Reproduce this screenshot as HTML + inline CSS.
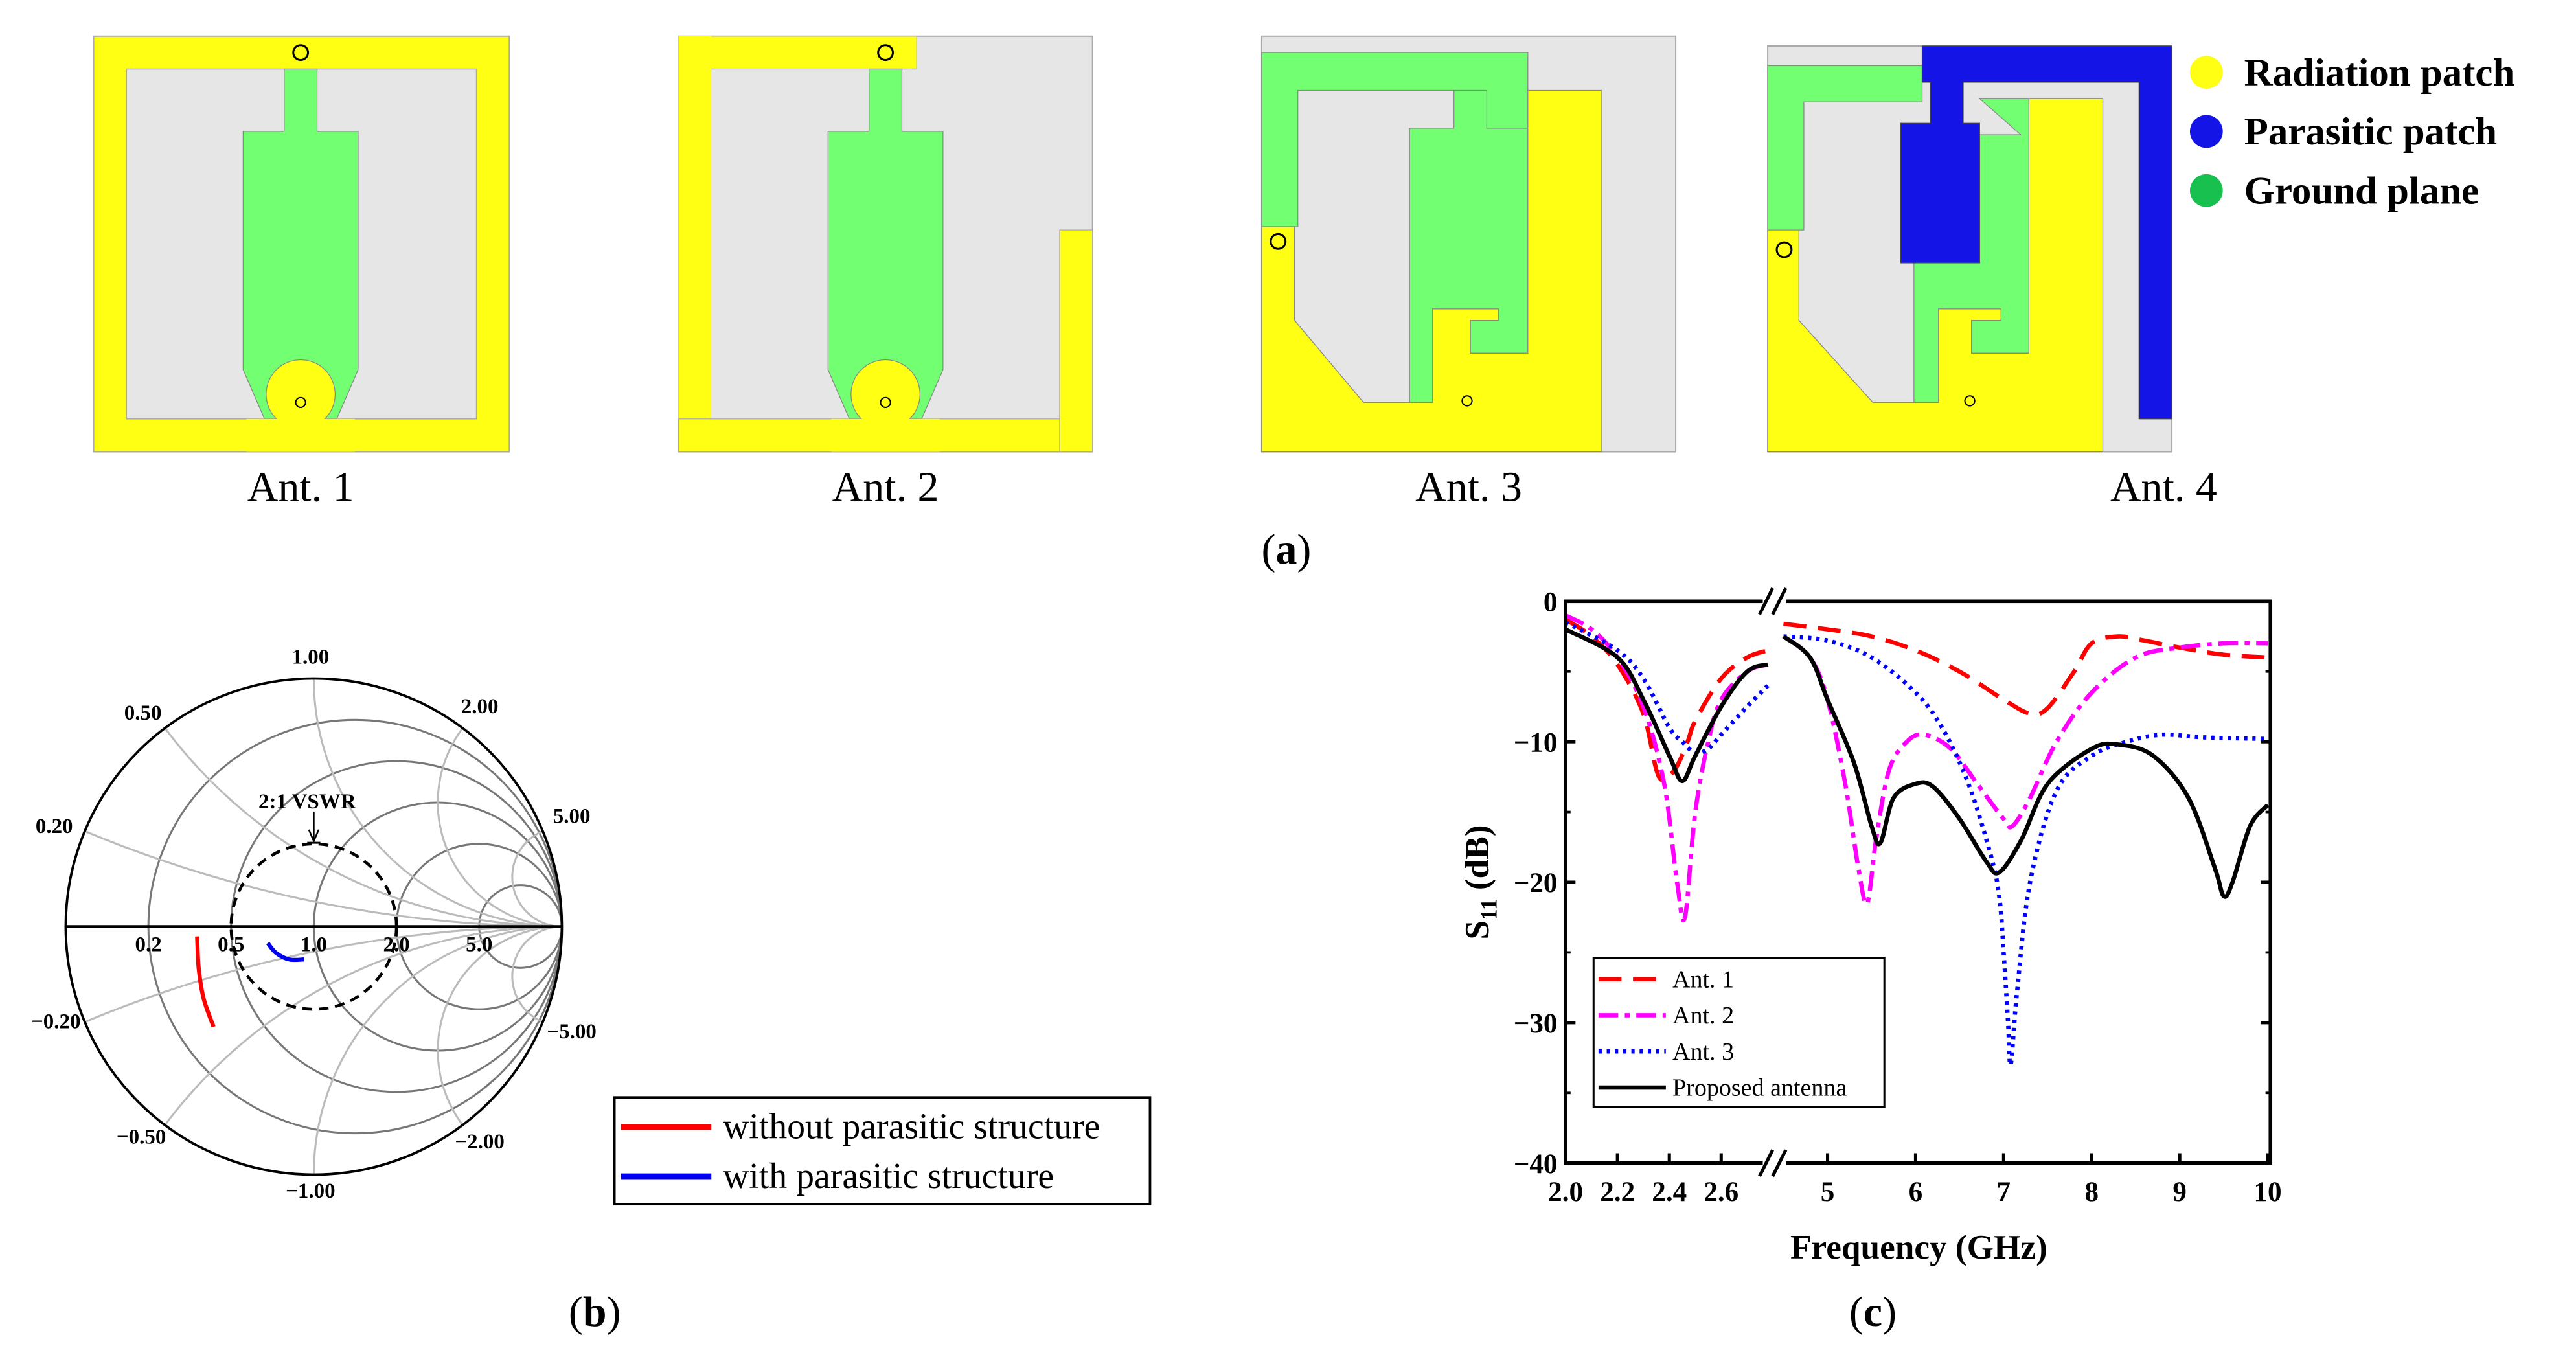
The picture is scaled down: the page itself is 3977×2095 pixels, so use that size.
<!DOCTYPE html>
<html><head><meta charset="utf-8"><style>
html,body{margin:0;padding:0;background:#fff;}
svg{display:block;}
text{font-family:"Liberation Serif",serif;}
</style></head><body>
<svg id="fig" width="3977" height="2095" viewBox="0 0 1568 826" preserveAspectRatio="none" xmlns="http://www.w3.org/2000/svg" font-family="Liberation Serif, serif">
<g>
<rect x="57" y="22" width="253" height="253" fill="#ffff14" stroke="#aaa" stroke-width="0.8"/>
<rect x="77" y="42" width="213" height="213" fill="#e6e6e6" stroke="#aaa" stroke-width="0.6"/>
<polygon points="173,42 193,42 193,80 218,80 218,225 205,255 161,255 148,225 148,80 173,80" fill="#72ff72" stroke="#888" stroke-width="0.5"/>
<circle cx="183" cy="240" r="21" fill="#ffff14" stroke="#888" stroke-width="0.5"/>
<rect x="150" y="255" width="66" height="20" fill="#ffff14"/>
<circle cx="183" cy="245" r="3" fill="none" stroke="#000" stroke-width="0.8"/>
<circle cx="183" cy="32" r="4.5" fill="none" stroke="#000" stroke-width="1.2"/>
</g>
<g>
<rect x="413" y="22" width="252" height="253" fill="#e6e6e6" stroke="#aaa" stroke-width="0.8"/>
<rect x="413" y="22" width="145" height="20" fill="#ffff14" stroke="#aaa" stroke-width="0.5"/>
<rect x="413" y="22" width="20" height="253" fill="#ffff14"/>
<rect x="413" y="255" width="252" height="20" fill="#ffff14" stroke="#aaa" stroke-width="0.5"/>
<rect x="645" y="140" width="20" height="135" fill="#ffff14" stroke="#aaa" stroke-width="0.5"/>
<polygon points="529,42 549,42 549,80 574,80 574,225 561,255 517,255 504,225 504,80 529,80" fill="#72ff72" stroke="#888" stroke-width="0.5"/>
<circle cx="539" cy="240" r="21" fill="#ffff14" stroke="#888" stroke-width="0.5"/>
<rect x="506" y="255" width="66" height="20" fill="#ffff14"/>
<circle cx="539" cy="245" r="3" fill="none" stroke="#000" stroke-width="0.8"/>
<circle cx="539" cy="32" r="4.5" fill="none" stroke="#000" stroke-width="1.2"/>
</g>
<g>
<rect x="768" y="22" width="252" height="253" fill="#e6e6e6" stroke="#aaa" stroke-width="0.8"/>
<polygon points="768,32 930,32 930,78 905,78 905,55 790,55 790,138 768,138" fill="#72ff72" stroke="#888" stroke-width="0.5"/>
<polygon points="885,55 905,55 905,78 930,78 930,215 895,215 895,195 912,195 912,188 872,188 872,245 858,245 858,78 885,78" fill="#72ff72" stroke="#888" stroke-width="0.5"/>
<polygon points="930,55 975,55 975,275 768,275 768,138 788,138 788,195 830,245 872,245 872,188 912,188 912,195 895,195 895,215 930,215" fill="#ffff14" stroke="#888" stroke-width="0.5"/>
<circle cx="778" cy="147" r="4.5" fill="none" stroke="#000" stroke-width="1.2"/>
<circle cx="893" cy="244" r="3" fill="none" stroke="#000" stroke-width="0.8"/>
</g>
<g>
<rect x="1076" y="28" width="246" height="247" fill="#e6e6e6" stroke="#aaa" stroke-width="0.8"/>
<polygon points="1076,40 1170,40 1170,62 1098,62 1098,140 1076,140" fill="#72ff72" stroke="#888" stroke-width="0.5"/>
<polygon points="1205,60 1235,60 1235,215 1200,215 1200,195 1218,195 1218,188 1180,188 1180,245 1165,245 1165,160 1205,160 1205,82 1230,82" fill="#72ff72" stroke="#888" stroke-width="0.5"/>
<polygon points="1235,60 1280,60 1280,275 1076,275 1076,140 1095,140 1095,195 1140,245 1180,245 1180,188 1218,188 1218,195 1200,195 1200,215 1235,215" fill="#ffff14" stroke="#888" stroke-width="0.5"/>
<polygon points="1170,28 1322,28 1322,255 1302,255 1302,50 1195,50 1195,75 1205,75 1205,160 1157,160 1157,75 1175,75 1175,50 1170,50" fill="#1414e6" stroke="#444" stroke-width="0.5"/>
<circle cx="1086" cy="152" r="4.5" fill="none" stroke="#000" stroke-width="1.2"/>
<circle cx="1199" cy="244" r="3" fill="none" stroke="#000" stroke-width="0.8"/>
</g>
<g font-family="Liberation Serif, serif">
<circle cx="1343" cy="44" r="10" fill="#ffff14"/><text x="1366" y="52" font-size="24" font-weight="bold" font-family="Liberation Serif, serif">Radiation patch</text>
<circle cx="1343" cy="80" r="10" fill="#1414e6"/><text x="1366" y="88" font-size="24" font-weight="bold" font-family="Liberation Serif, serif">Parasitic patch</text>
<circle cx="1343" cy="116" r="10" fill="#18c050"/><text x="1366" y="124" font-size="24" font-weight="bold" font-family="Liberation Serif, serif">Ground plane</text>
</g>
<text x="183" y="305" font-size="26" text-anchor="middle">Ant. 1</text>
<text x="539" y="305" font-size="26" text-anchor="middle">Ant. 2</text>
<text x="894" y="305" font-size="26" text-anchor="middle">Ant. 3</text>
<text x="1317" y="305" font-size="26" text-anchor="middle">Ant. 4</text>
<text x="783" y="343" font-size="26" text-anchor="middle">(<tspan font-weight="bold">a</tspan>)</text>
<text x="362" y="807" font-size="26" text-anchor="middle">(<tspan font-weight="bold">b</tspan>)</text>
<text x="1140" y="807" font-size="26" text-anchor="middle">(<tspan font-weight="bold">c</tspan>)</text>

<g id="smith"></g>
<g>
<rect x="374" y="668" width="326" height="65" fill="#fff" stroke="#000" stroke-width="1.5"/>
<line x1="378" y1="686" x2="433" y2="686" stroke="#f00" stroke-width="3.5"/>
<text x="440" y="693" font-size="22" font-family="Liberation Serif, serif">without parasitic structure</text>
<line x1="378" y1="716" x2="433" y2="716" stroke="#0000f0" stroke-width="3.5"/>
<text x="440" y="723" font-size="22" font-family="Liberation Serif, serif">with parasitic structure</text>
</g>
<g id="s11"></g>
</svg>
<script>
const ant1F_L=[2.0,2.1,2.2,2.3,2.36,2.42,2.47,2.5,2.6,2.7,2.78];
const ant1V_L=[-1.3,-2.5,-4.5,-8,-12.5,-12,-10,-8.5,-5.5,-4,-3.5];
const ant1F_R=[4.5,5,5.5,6,6.5,7,7.3,7.5,7.8,8,8.3,8.6,9,9.5,10];
const ant1V_R=[-1.6,-2,-2.5,-3.5,-5,-7,-8,-7.6,-5,-3,-2.5,-2.8,-3.3,-3.8,-4];
const ant2F_L=[2.0,2.1,2.2,2.3,2.38,2.43,2.46,2.5,2.55,2.6,2.7,2.78];
const ant2V_L=[-1,-2,-4,-7.5,-13,-20,-22.5,-15,-10,-7,-5,-4.5];
const ant2F_R=[4.5,4.8,5,5.2,5.35,5.45,5.55,5.7,5.9,6.1,6.4,6.7,7.0,7.1,7.3,7.6,8,8.5,9,9.5,10];
const ant2V_R=[-2.5,-4,-7,-13,-19,-21.5,-17,-12,-10,-9.5,-10.5,-13,-15.5,-16,-14,-10,-6.5,-4,-3.3,-3,-3];
const ant3F_L=[2.0,2.2,2.3,2.4,2.45,2.5,2.55,2.6,2.7,2.78];
const ant3V_L=[-1.5,-3.5,-5.5,-9,-10,-10.8,-10.5,-9.5,-7.5,-6];
const ant3F_R=[4.5,5,5.5,6,6.3,6.6,6.85,6.95,7.0,7.05,7.08,7.15,7.3,7.6,8,8.4,8.8,9.3,10];
const ant3V_R=[-2.5,-2.8,-4,-6.5,-9,-13,-18,-21,-25,-30,-33,-28,-20,-13.5,-11,-10,-9.5,-9.7,-9.8];
const propF_L=[2.0,2.2,2.3,2.4,2.45,2.5,2.6,2.7,2.78];
const propV_L=[-2,-4,-7,-11,-12.8,-11,-7.5,-5,-4.5];
const propF_R=[4.5,4.8,5,5.3,5.5,5.6,5.75,6,6.2,6.5,6.8,6.95,7.2,7.5,8,8.3,8.7,9.1,9.4,9.5,9.6,9.8,10];
const propV_R=[-2.5,-4,-7,-11.5,-16,-17.2,-14,-13,-13.2,-15.5,-18.5,-19.3,-17,-13,-10.5,-10.2,-11,-14,-19,-21,-20,-16,-14.5];
const xTicksL=[2.0,2.2,2.4,2.6];
const xTicksR=[5,6,7,8,9,10];
const yTicks=[0,-10,-20,-30,-40];
const legendNames=["Ant. 1","Ant. 2","Ant. 3","Proposed antenna"];

const NS="http://www.w3.org/2000/svg";
function mk(tag,attrs,parent){const e=document.createElementNS(NS,tag);for(const k in attrs)e.setAttribute(k,attrs[k]);parent.appendChild(e);return e;}
const PL=953,PR=1382,PT=366,PB=708,PW=PR-PL;
function xS(f){return f<=2.8? PL+(f-2)*0.3678*PW : PL+((485+(f-5)*163)/1305)*PW;}
function yS(d){return PT+(-d)/40*(PB-PT);}
function smooth(P){
 let d="M"+P[0][0].toFixed(1)+","+P[0][1].toFixed(1);
 for(let i=0;i<P.length-1;i++){
  const p0=P[Math.max(i-1,0)],p1=P[i],p2=P[i+1],p3=P[Math.min(i+2,P.length-1)];
  const t=1/6;
  const c1=[p1[0]+(p2[0]-p0[0])*t,p1[1]+(p2[1]-p0[1])*t];
  const c2=[p2[0]-(p3[0]-p1[0])*t,p2[1]-(p3[1]-p1[1])*t];
  d+=` C${c1[0].toFixed(1)},${c1[1].toFixed(1)} ${c2[0].toFixed(1)},${c2[1].toFixed(1)} ${p2[0].toFixed(1)},${p2[1].toFixed(1)}`;
 }
 return d;
}
const g=document.getElementById('s11');
const series=[
 {L:[ant1F_L,ant1V_L],R:[ant1F_R,ant1V_R],c:"#ff0000",da:"14,7",w:2.6,n:"ant-1"},
 {L:[ant2F_L,ant2V_L],R:[ant2F_R,ant2V_R],c:"#ff00ff",da:"12,4,3,4",w:2.6,n:"ant-2"},
 {L:[ant3F_L,ant3V_L],R:[ant3F_R,ant3V_R],c:"#0000ff",da:"2,3",w:2.6,n:"ant-3"},
 {L:[propF_L,propV_L],R:[propF_R,propV_R],c:"#000",da:"none",w:2.6,n:"proposed"}];
series.forEach(s=>{
 [s.L,s.R].forEach(seg=>{
  const P=seg[0].map((f,k)=>[xS(f),yS(seg[1][k])]);
  const p=mk('path',{d:smooth(P),fill:"none",stroke:s.c,"stroke-width":s.w,"stroke-dasharray":s.da,"stroke-linejoin":"round"},g);
  
  
 });
});
const fr=mk('rect',{x:PL,y:PT,width:PW,height:PB-PT,fill:"none",stroke:"#000","stroke-width":2.2},g);


[PT,PB].forEach(yy=>{
 mk('rect',{x:1073,y:yy-8,width:14,height:16,fill:"#fff"},g);
 mk('line',{x1:1071,y1:yy+8,x2:1079,y2:yy-8,stroke:"#000","stroke-width":2},g);
 mk('line',{x1:1079,y1:yy+8,x2:1087,y2:yy-8,stroke:"#000","stroke-width":2},g);
});
xTicksL.concat(xTicksR).forEach(t=>{
 const x=xS(t);
 mk('line',{x1:x,y1:PB,x2:x,y2:PB-6,stroke:"#000","stroke-width":2},g);
 const tx=mk('text',{x:x,y:PB+23,"font-size":17,"font-weight":"bold","text-anchor":"middle"},g);
 tx.textContent=(t<3?t.toFixed(1):String(t));
 
 
});
yTicks.forEach(t=>{
 const y=yS(t);
 mk('line',{x1:PL,y1:y,x2:PL+6,y2:y,stroke:"#000","stroke-width":2},g);
 mk('line',{x1:PR,y1:y,x2:PR-6,y2:y,stroke:"#000","stroke-width":2},g);
 const ty=mk('text',{x:PL-5,y:y+6,"font-size":17,"font-weight":"bold","text-anchor":"end"},g);
 ty.textContent=(t===0?"0":"\u2212"+(-t));
 
 
});
for(let t=-5;t>-40;t-=10){const y=yS(t);mk('line',{x1:PL,y1:y,x2:PL+3,y2:y,stroke:"#000","stroke-width":1.5},g);mk('line',{x1:PR,y1:y,x2:PR-3,y2:y,stroke:"#000","stroke-width":1.5},g);}
const xt=mk('text',{x:1168,y:766,"font-size":21,"font-weight":"bold","text-anchor":"middle"},g);
xt.textContent="Frequency (GHz)";


const yt=mk('text',{x:0,y:0,"font-size":21,"font-weight":"bold","text-anchor":"middle",transform:"translate(906,537) rotate(-90)"},g);
yt.innerHTML='S<tspan font-size="14" dy="5">11</tspan><tspan dy="-5"> (dB)</tspan>';


const lg=mk('g',{},g);


mk('rect',{x:970,y:583,width:177,height:91,fill:"#fff",stroke:"#000","stroke-width":1.2},lg);
series.forEach((s,i)=>{
 const y=596+i*22;
 const l=mk('line',{x1:973,y1:y,x2:1014,y2:y,stroke:s.c,"stroke-width":2.6,"stroke-dasharray":s.da},lg);
 
 
 const t=mk('text',{x:1018,y:y+5,"font-size":15},lg);
 t.textContent=legendNames[i];
 
 
});

const rCircles=[0.2,0.5,1,2,5];
const xArcs=[0.2,0.5,1,2,5];
const rLabels=["0.2","0.5","1.0","2.0","5.0"];
const sg=document.getElementById('smith');
const CX=191,CY=564,R=151;
function gx(u){return CX+u*R;} function gy(v){return CY-v*R;}
rCircles.forEach(r=>{
 const c=mk('circle',{cx:gx(r/(1+r)),cy:CY,r:R/(1+r),fill:"none",stroke:"#777","stroke-width":1.2},sg);
 
 
});
xArcs.forEach(x=>{
 [1,-1].forEach(sgn=>{
  const xx=x*sgn;
  const px=(xx*xx-1)/(xx*xx+1), py=2*xx/(xx*xx+1);
  const p=mk('path',{d:`M${gx(1)},${CY} A${R/x},${R/x} 0 0 ${sgn>0?1:0} ${gx(px)},${gy(py)}`,fill:"none",stroke:"#bbb","stroke-width":1.2},sg);
  
  
 });
});
mk('circle',{cx:CX,cy:CY,r:R,fill:"none",stroke:"#000","stroke-width":1.5},sg);
mk('line',{x1:CX-R,y1:CY,x2:CX+R,y2:CY,stroke:"#000","stroke-width":1.8},sg);
const vs=mk('circle',{cx:CX,cy:CY,r:R/3,fill:"none",stroke:"#000","stroke-width":1.8,"stroke-dasharray":"6,4"},sg);


mk('line',{x1:CX,y1:494,x2:CX,y2:512,stroke:"#000","stroke-width":1},sg);
mk('path',{d:`M${CX-3},505 L${CX},512 L${CX+3},505`,fill:"none",stroke:"#000","stroke-width":1},sg);
mk('line',{x1:CX-4,y1:513,x2:CX+4,y2:513,stroke:"#000","stroke-width":1.2},sg);
const vt=mk('text',{x:CX-4,y:492,"font-size":13,"font-weight":"bold","text-anchor":"middle"},sg);
vt.textContent="2:1 VSWR";
rCircles.forEach((r,i)=>{
 const t=mk('text',{x:gx((r-1)/(r+1)),y:CY+15,"font-size":13,"font-weight":"bold","text-anchor":"middle"},sg);
 t.textContent=rLabels[i];
 
 
});
const xLab=[["1.00",189,404],["2.00",292,434],["5.00",348,501],["0.50",87,438],["0.20",33,507],["\u22120.20",34,626],["\u22120.50",86,696],["\u22121.00",189,729],["\u22122.00",292,699],["\u22125.00",348,632]];
xLab.forEach(a=>{const t=mk('text',{x:a[1],y:a[2],"font-size":13,"font-weight":"bold","text-anchor":"middle"},sg);t.textContent=a[0];
 
 });
const redPts=[[120,570],[121,590],[124,608],[130,625]];
const bluePts=[[163,574],[168,580],[176,584],[185,584]];
const rp=mk('path',{d:smooth(redPts),fill:"none",stroke:"#f00","stroke-width":2.5},sg);


const bp=mk('path',{d:smooth(bluePts),fill:"none",stroke:"#0000f0","stroke-width":2.5},sg);


</script>
</body></html>
